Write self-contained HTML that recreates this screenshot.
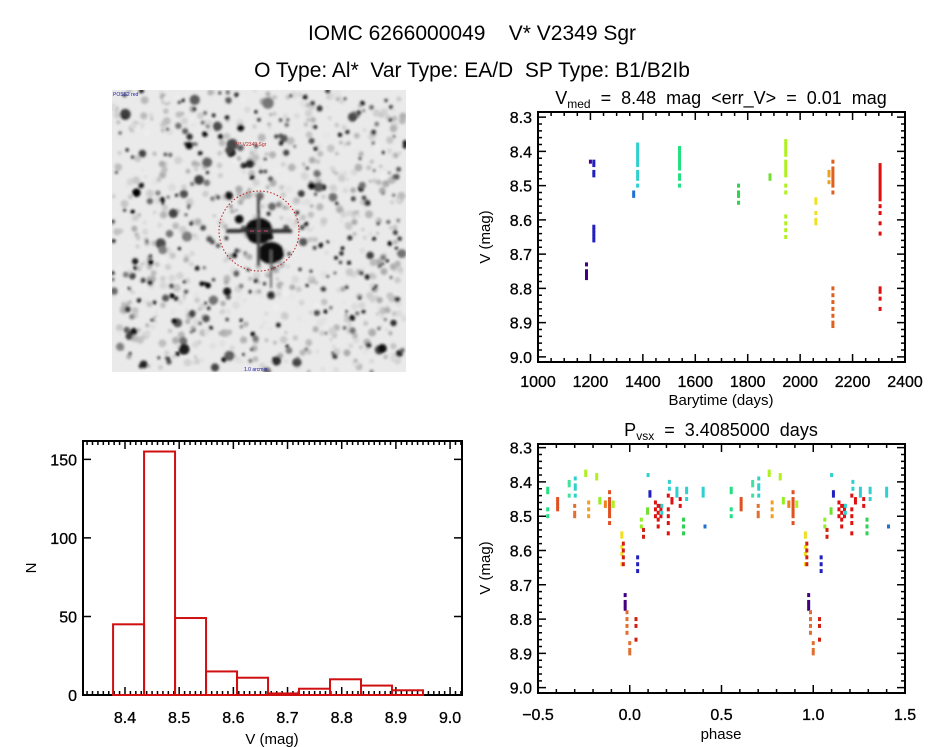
<!DOCTYPE html>
<html><head><meta charset="utf-8">
<style>
html,body{margin:0;padding:0;background:#fff;}
svg{display:block;font-family:"Liberation Sans",sans-serif;}
text{white-space:pre;}
.tl{font-size:16px;fill:#000;stroke:#000;stroke-width:0.3;}
</style></head>
<body>
<svg id="fig" width="944" height="747" viewBox="0 0 944 747" xmlns="http://www.w3.org/2000/svg" xml:space="preserve">
<defs><filter id="blur" x="-5%" y="-5%" width="110%" height="110%"><feGaussianBlur stdDeviation="1.3"/></filter></defs>
<text x="472" y="40" text-anchor="middle" font-size="21">IOMC 6266000049    V* V2349 Sgr</text>
<text x="472" y="77" text-anchor="middle" font-size="21">O Type: Al*  Var Type: EA/D  SP Type: B1/B2Ib</text>
<g id="img"></g>
<g id="lc"></g>
<g id="ph"></g>
<g id="hist"></g>
</svg>
<script>
// ---- Light curve data ----
const lcTimes = [1185,1200,1213,1365,1380,1540,1765,1885,1945,2060,2110,2125,2305];
const lcColors = ["#400080","#400090","#2020c0","#2070d0","#30d0d0","#20e080","#30d050","#70e030","#b0f020","#f0e020","#f0a020","#e06020","#e01010"];
const lcMags = [
 [8.73,8.75,8.76,8.77],
 [8.43],
 [8.43,8.44,8.46,8.47,8.62,8.63,8.64,8.65,8.66],
 [8.52,8.53],
 [8.38,8.39,8.40,8.41,8.42,8.43,8.44,8.46,8.47,8.48,8.50],
 [8.39,8.40,8.41,8.42,8.43,8.44,8.45,8.47,8.48,8.50],
 [8.50,8.52,8.53,8.55],
 [8.47,8.48],
 [8.37,8.38,8.39,8.40,8.41,8.43,8.44,8.45,8.46,8.47,8.50,8.52,8.59,8.61,8.63,8.65],
 [8.54,8.55,8.58,8.60,8.61],
 [8.46,8.47,8.49],
 [8.43,8.45,8.46,8.47,8.48,8.49,8.50,8.52,8.80,8.82,8.84,8.86,8.88,8.90,8.91],
 [8.44,8.45,8.46,8.47,8.48,8.49,8.50,8.51,8.52,8.53,8.54,8.56,8.58,8.61,8.64,8.80,8.81,8.83,8.86]
];
// ---- Phased data (phase in [-0.5,0.5), drawn twice) ----
const phPhases = [-0.447,-0.393,-0.33,-0.297,-0.30,-0.24,-0.224,-0.18,-0.163,-0.133,-0.11,-0.09,-0.043,-0.035,-0.025,-0.015,0.0,0.034,0.043,0.063,0.075,0.097,0.10,0.11,0.14,0.155,0.17,0.175,0.21,0.216,0.23,0.257,0.275,0.293,0.31,0.40,0.41];
const phColors = ["#20e080","#e05020","#40e0a0","#30d0d0","#e07030","#b0f020","#f0a020","#b0f020","#90f020","#f08020","#e05020","#b0f020","#f0e020","#d02010","#400080","#e07030","#e07030","#d02010","#2020c0","#90f020","#d02010","#70e030","#30d0d0","#2020c0","#e01010","#e01010","#e01010","#30d0d0","#e01010","#30d0d0","#e01010","#30d0d0","#e01010","#30d050","#30d0d0","#30d0d0","#2070d0"];
const phMags = [
 [8.42,8.43,8.48,8.50],[8.45,8.46,8.47,8.48],[8.40,8.41,8.44],[8.39,8.41,8.42,8.44],[8.47,8.49,8.50],
 [8.37,8.38],[8.46,8.48,8.50],[8.38,8.39],[8.45,8.46],[8.46,8.47],
 [8.43,8.45,8.46,8.47,8.48,8.49,8.50,8.52],[8.46,8.47],[8.55,8.56,8.59,8.61,8.64],[8.58,8.60,8.62,8.64],[8.73,8.75,8.76,8.77],
 [8.78,8.80,8.82,8.84],[8.87,8.89,8.90],[8.80,8.82,8.86],[8.62,8.64,8.66],[8.51,8.53],
 [8.54,8.56],[8.48,8.49],[8.38],[8.43,8.44],[8.46,8.48,8.50],
 [8.47,8.49,8.51,8.53],[8.47,8.48,8.50],[8.47,8.49],[8.44,8.48,8.50,8.52,8.55],[8.40,8.42],
 [8.45,8.46],[8.42,8.43,8.44],[8.45,8.47],[8.51,8.53,8.55],[8.42,8.43,8.45],
 [8.42,8.43,8.44],[8.53]
];
// ---- Histogram data ----
const hBinStart = 8.378;
const hBinWidth = 0.0572;
const hCounts = [45,155,49,15,11,1,4,10,6,3];
const hXTicks = [8.4,8.5,8.6,8.7,8.8,8.9,9.0];
const hYTicks = [0,50,100,150];

const NS="http://www.w3.org/2000/svg";
function mk(parent,tag,attrs,text){const e=document.createElementNS(NS,tag);for(const k in attrs)e.setAttribute(k,attrs[k]);if(text!==undefined)e.textContent=text;parent.appendChild(e);return e;}

function axes(g,box,xr,yr,xMaj,xMin,yMaj,yMin,prefix){
 const sx=v=>box.x0+(v-xr[0])/(xr[1]-xr[0])*(box.x1-box.x0);
 const sy=v=>box.y0+(v-yr[0])/(yr[1]-yr[0])*(box.y1-box.y0);
 const frame=mk(g,'rect',{x:box.x0,y:box.y0,width:box.x1-box.x0,height:box.y1-box.y0,fill:'none',stroke:'#000','stroke-width':2});
 
 
 let d='';
 const lo=Math.min(yr[0],yr[1]),hi=Math.max(yr[0],yr[1]);
 for(let i=Math.ceil(xr[0]/xMin-1e-6);i*xMin<=xr[1]+1e-9;i++){const v=i*xMin;const maj=Math.abs(v/xMaj-Math.round(v/xMaj))<1e-6;const L=maj?8:4;const x=sx(v);d+=`M${x},${box.y1}v${-L}M${x},${box.y0}v${L}`;}
 if(yMin) for(let i=Math.ceil(lo/yMin-1e-6);i*yMin<=hi+1e-9;i++){const v=i*yMin;const maj=Math.abs(v/yMaj-Math.round(v/yMaj))<1e-6;const L=maj?8:4;const y=sy(v);d+=`M${box.x0},${y}h${L}M${box.x1},${y}h${-L}`;}
 mk(g,'path',{d:d,stroke:'#000','stroke-width':1.5,fill:'none'});
 return {sx,sy};
}

// ---- Light curve ----
(function(){
 const g=document.getElementById('lc');
 const box={x0:538,x1:905,y0:112,y1:362};
 const yr=[8.285,9.015];
 const {sx,sy}=axes(g,box,[1000,2400],yr,200,50,0.1,0.02,'lc');
 [1000,1200,1400,1600,1800,2000,2200,2400].forEach(v=>{const t=mk(g,'text',{x:sx(v),y:387,'text-anchor':'middle',class:'tl'},String(v));});
 [8.3,8.4,8.5,8.6,8.7,8.8,8.9,9.0].forEach(v=>{const t=mk(g,'text',{x:532,y:sy(v)+6,'text-anchor':'end',class:'tl'},v.toFixed(1));});
 const xl=mk(g,'text',{x:721,y:405,'text-anchor':'middle','font-size':15},'Barytime (days)');
 const yl=mk(g,'text',{x:0,y:0,'text-anchor':'middle','font-size':15,transform:'translate(490,237) rotate(-90)'},'V (mag)');
 const tt=mk(g,'text',{x:721,y:104,'text-anchor':'middle','font-size':18});
 tt.innerHTML='V<tspan font-size="12" dy="4">med</tspan><tspan dy="-4">  =  8.48  mag  &lt;err_V&gt;  =  0.01  mag</tspan>';
 lcTimes.forEach((t,i)=>{lcMags[i].forEach(m=>{const r=mk(g,'rect',{x:sx(t)-1.5,y:sy(m)-2,width:3,height:4,fill:lcColors[i]});});});
})();

// ---- Phased ----
(function(){
 const g=document.getElementById('ph');
 const box={x0:538,x1:905,y0:444,y1:693};
 const yr=[8.2895,9.0155];
 const {sx,sy}=axes(g,box,[-0.5,1.5],yr,0.5,0.1,0.1,0.02,'ph');
 [-0.5,0,0.5,1.0,1.5].forEach(v=>{const t=mk(g,'text',{x:sx(v),y:720,'text-anchor':'middle',class:'tl'},(v<0?'\u22120.5':v.toFixed(1)));});
 [8.3,8.4,8.5,8.6,8.7,8.8,8.9,9.0].forEach(v=>{const t=mk(g,'text',{x:532,y:sy(v)+6,'text-anchor':'end',class:'tl'},v.toFixed(1));});
 const xl=mk(g,'text',{x:721,y:739,'text-anchor':'middle','font-size':15},'phase');
 const yl=mk(g,'text',{x:0,y:0,'text-anchor':'middle','font-size':15,transform:'translate(490,568) rotate(-90)'},'V (mag)');
 const tt=mk(g,'text',{x:721,y:436,'text-anchor':'middle','font-size':18});
 tt.innerHTML='P<tspan font-size="12" dy="4">vsx</tspan><tspan dy="-4">  =  3.4085000  days</tspan>';
 phPhases.forEach((p,i)=>{[p,p+1].forEach(pp=>{phMags[i].forEach(m=>{const r=mk(g,'rect',{x:sx(pp)-1.5,y:sy(m)-2,width:3,height:4,fill:phColors[i]});});});});
})();

// ---- Histogram ----
(function(){
 const g=document.getElementById('hist');
 const box={x0:83,x1:462,y0:441,y1:695};
 const xr=[8.3225,9.022], yr=[161.7,0];
 const {sx,sy}=axes(g,box,xr,yr,0.1,0.01,50,0,'hist');
 let d='';
 hYTicks.forEach(v=>{const y=sy(v);d+=`M${box.x0},${y}h8M${box.x1},${y}h-8`;});
 mk(g,'path',{d:d,stroke:'#000','stroke-width':1.5});
 hXTicks.forEach(v=>{const t=mk(g,'text',{x:sx(v),y:723,'text-anchor':'middle',class:'tl'},v.toFixed(1));});
 hYTicks.forEach(v=>{const t=mk(g,'text',{x:77,y:sy(v)+6,'text-anchor':'end',class:'tl'},String(v));});
 const xl=mk(g,'text',{x:272,y:744,'text-anchor':'middle','font-size':15},'V (mag)');
 const yl=mk(g,'text',{x:0,y:0,'text-anchor':'middle','font-size':15,transform:'translate(36,568) rotate(-90)'},'N');
 hCounts.forEach((c,i)=>{const a=sx(hBinStart+i*hBinWidth),b=sx(hBinStart+(i+1)*hBinWidth);const r=mk(g,'rect',{x:a,y:sy(c),width:b-a,height:sy(0)-sy(c),fill:'none',stroke:'#d01010','stroke-width':2});});
})();

// ---- Star field image ----
(function(){
 const g=document.getElementById('img');
 const cp=mk(g,'clipPath',{id:'imgclip'});mk(cp,'rect',{x:112,y:90,width:294,height:282});
 const outer=mk(g,'g',{'clip-path':'url(#imgclip)'});
 mk(outer,'rect',{x:112,y:90,width:294,height:282,fill:'#eaeaea'});
 const sg=mk(outer,'g',{filter:'url(#blur)'});
 let s=12345;const rnd=()=>{s=(s*1103515245+12345)%2147483648;return s/2147483648;};
 for(let i=0;i<700;i++){const x=112+rnd()*294,y=90+rnd()*282;const sh=170+Math.floor(rnd()*70);mk(sg,'circle',{cx:x,cy:y,r:1.5+rnd()*2.5,fill:`rgb(${sh},${sh},${sh})`});}
 for(let i=0;i<320;i++){const x=112+rnd()*294,y=90+rnd()*282;const sh=Math.floor(rnd()*130);mk(sg,'circle',{cx:x,cy:y,r:1.5+rnd()*rnd()*4.5,fill:`rgb(${sh},${sh},${sh})`});}
 mk(sg,'ellipse',{cx:259,cy:231,rx:14,ry:13,fill:'#111'});
 mk(sg,'ellipse',{cx:271,cy:253,rx:13,ry:11,fill:'#111'});
 mk(sg,'rect',{x:226,y:229,width:66,height:4,fill:'#333'});
 mk(sg,'rect',{x:257,y:198,width:3,height:68,fill:'#444'});
 mk(sg,'rect',{x:270,y:250,width:2,height:38,fill:'#666'});
 mk(outer,'circle',{cx:259,cy:231,r:40,fill:'none',stroke:'#c02020','stroke-width':1,'stroke-dasharray':'1.5,2'});
 mk(outer,'path',{d:'M250,231h18',stroke:'#d04070','stroke-width':1,'stroke-dasharray':'4,3'});
 mk(outer,'text',{x:236,y:146,'font-size':5,fill:'#c02020'},'V* V2349 Sgr');
 mk(outer,'text',{x:113,y:96,'font-size':5,fill:'#2020a0'},'POSS2 red');
 mk(outer,'text',{x:244,y:371,'font-size':5,fill:'#2020a0'},'1.0 arcmin');
})();
</script>
</body></html>
